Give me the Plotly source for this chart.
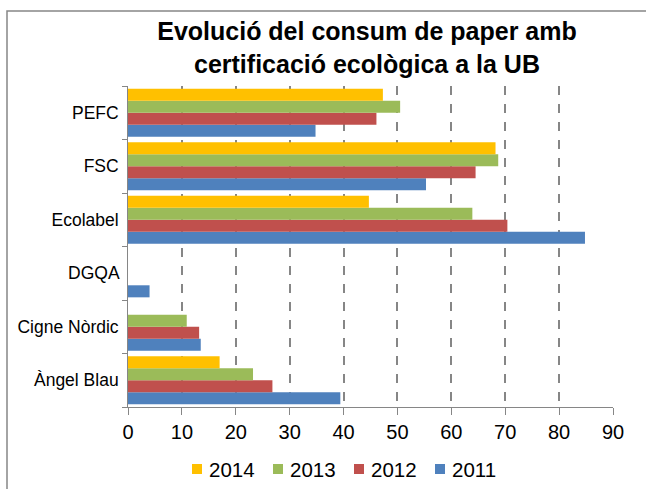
import plotly.graph_objects as go

categories = ["Àngel Blau", "Cigne Nòrdic", "DGQA", "Ecolabel", "FSC", "PEFC"]
years = ["2011", "2012", "2013", "2014"]
v2011 = [39.4, 13.5, 4.0, 84.8, 55.3, 34.8]
v2012 = [26.8, 13.2, None, 70.4, 64.5, 46.1]
v2013 = [23.2, 10.9, None, 63.9, 68.7, 50.5]
v2014 = [17.0, None, None, 44.7, 68.2, 47.3]
x_ticks = [0, 10, 20, 30, 40, 50, 60, 70, 80, 90]
title = "Evolució del consum de paper amb<br>certificació ecològica a la UB"

colors = {"2011": "#4F81BD", "2012": "#C0504D", "2013": "#9BBB59", "2014": "#FFC000"}
series = {"2011": v2011, "2012": v2012, "2013": v2013, "2014": v2014}

fig = go.Figure()
for y in years:
    fig.add_trace(go.Bar(
        y=categories, x=series[y], name=y, orientation="h",
        marker=dict(color=colors[y], line=dict(width=0)),
    ))

# plot area geometry in px
L, R, T, B = 128, 613, 86, 407
W, H = 646, 489
pw, ph = R - L, B - T

def px(x):
    return (x - L) / pw

def py(y):
    return (B - y) / ph

fig.update_layout(
    width=W, height=H,
    margin=dict(l=L, r=W - R, t=T, b=H - B, pad=0),
    barmode="group", bargap=0.1, bargroupgap=0,
    paper_bgcolor="white", plot_bgcolor="white",
    font=dict(family="Liberation Sans, Arial, sans-serif", color="#000000"),
    title=dict(text="<b>" + title + "</b>", x=367 / W, xanchor="center",
               y=1 - 40 / H, yanchor="middle", font=dict(size=25)),
    showlegend=False,
    xaxis=dict(range=[0, 90], tickvals=x_ticks, showgrid=True, gridcolor="#868686",
               griddash="dash", gridwidth=1.5, zeroline=False,
               showline=True, linecolor="#868686", linewidth=1,
               ticks="outside", ticklen=7, tickcolor="#868686",
               tickfont=dict(size=20), fixedrange=True),
    yaxis=dict(categoryorder="array", categoryarray=categories, showgrid=False,
               showline=True, linecolor="#868686", linewidth=1,
               ticks="outside", ticklen=5, tickcolor="#868686", tickson="boundaries",
               tickfont=dict(size=17.5), ticksuffix=" ", fixedrange=True),
)

# outer chart border (right/bottom edges fall outside the picture)
fig.add_shape(type="rect", xref="paper", yref="paper",
              x0=px(7), x1=px(660), y0=py(500), y1=py(11),
              line=dict(color="#868686", width=1.5), layer="below")

# legend drawn by hand: reversed year order
leg_x = [192, 273, 354, 435]
for i, yr in enumerate(reversed(years)):
    x0 = leg_x[i]
    fig.add_shape(type="rect", xref="paper", yref="paper",
                  x0=px(x0), x1=px(x0 + 10), y0=py(474), y1=py(464),
                  line=dict(width=0), fillcolor=colors[yr])
    fig.add_annotation(xref="paper", yref="paper", x=px(x0 + 15), y=py(469),
                       text=yr, showarrow=False, xanchor="left", yanchor="middle",
                       font=dict(size=20.5, color="#000000"))

fig.write_html("out.html", config={"displayModeBar": False},
               post_script="document.body.style.margin='0';")
